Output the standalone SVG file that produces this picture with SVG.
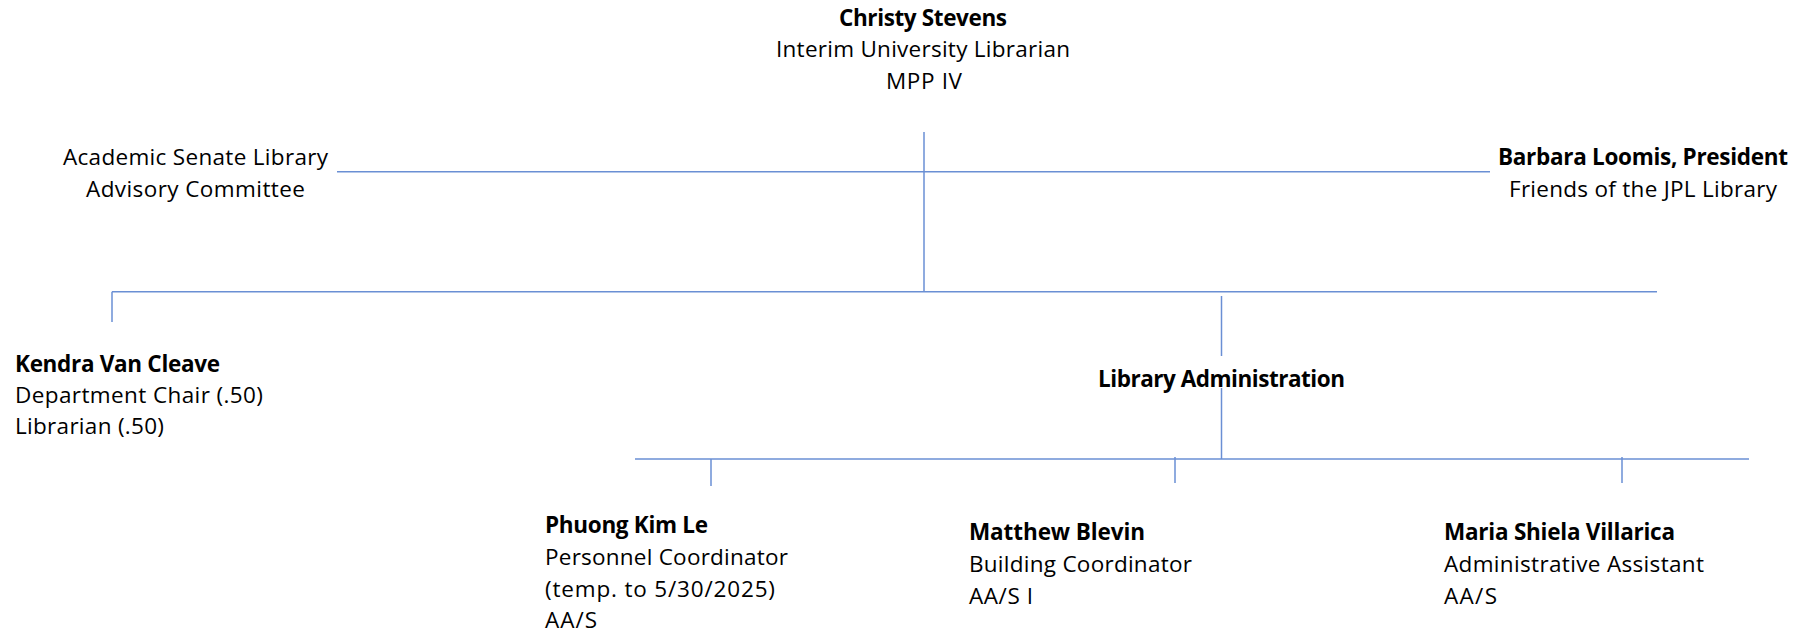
<svg xmlns="http://www.w3.org/2000/svg" width="1810" height="636" viewBox="0 0 1810 636">
<style>
  text { font-family: "Open Sans", "Liberation Sans", sans-serif; font-size: 22.5px; fill: #000; }
  .b { font-weight: 700; }
  .c { text-anchor: middle; }
  .ln { stroke: #6a8fd4; stroke-width: 1.5; fill: none; }
</style>
<rect width="1810" height="636" fill="#fff"/>
<g id="connectors">
  <line class="ln" x1="924" y1="132" x2="924" y2="291.7"/>
  <line class="ln" x1="337" y1="171.7" x2="1490" y2="171.7"/>
  <line class="ln" x1="112" y1="291.7" x2="1657" y2="291.7"/>
  <line class="ln" x1="112" y1="291.7" x2="112" y2="322"/>
  <line class="ln" x1="1221.5" y1="296" x2="1221.5" y2="356"/>
  <line class="ln" x1="1221.5" y1="388" x2="1221.5" y2="459"/>
  <line class="ln" x1="635" y1="459" x2="1749" y2="459"/>
  <line class="ln" x1="711" y1="459" x2="711" y2="486"/>
  <line class="ln" x1="1175" y1="457" x2="1175" y2="483"/>
  <line class="ln" x1="1622" y1="457" x2="1622" y2="483"/>
</g>
<g id="node-christy">
  <text class="b c" x="923" y="26" textLength="168">Christy Stevens</text>
  <text class="c" x="923" y="57" textLength="294">Interim University Librarian</text>
  <text class="c" x="924" y="89" textLength="76">MPP IV</text>
</g>
<g id="node-senate">
  <text class="c" x="195.5" y="165" textLength="265">Academic Senate Library</text>
  <text class="c" x="195.5" y="197" textLength="219">Advisory Committee</text>
</g>
<g id="node-friends">
  <text class="b c" x="1643" y="165" textLength="290">Barbara Loomis, President</text>
  <text class="c" x="1643" y="197" textLength="268">Friends of the JPL Library</text>
</g>
<g id="node-kendra">
  <text class="b" x="15" y="372" textLength="205">Kendra Van Cleave</text>
  <text x="15" y="403" textLength="248">Department Chair (.50)</text>
  <text x="15" y="434" textLength="149">Librarian (.50)</text>
</g>
<g id="node-libadmin">
  <text class="b c" x="1221.5" y="387" textLength="247">Library Administration</text>
</g>
<g id="node-phuong">
  <text class="b" x="545" y="533" textLength="163">Phuong Kim Le</text>
  <text x="545" y="565" textLength="243">Personnel Coordinator</text>
  <text x="545" y="597" textLength="230">(temp. to 5/30/2025)</text>
  <text x="545" y="628" textLength="52">AA/S</text>
</g>
<g id="node-matthew">
  <text class="b" x="969" y="540" textLength="176">Matthew Blevin</text>
  <text x="969" y="572" textLength="223">Building Coordinator</text>
  <text x="969" y="604" textLength="64">AA/S I</text>
</g>
<g id="node-maria">
  <text class="b" x="1444" y="540" textLength="231">Maria Shiela Villarica</text>
  <text x="1444" y="572" textLength="260">Administrative Assistant</text>
  <text x="1444" y="604" textLength="53">AA/S</text>
</g>
</svg>
